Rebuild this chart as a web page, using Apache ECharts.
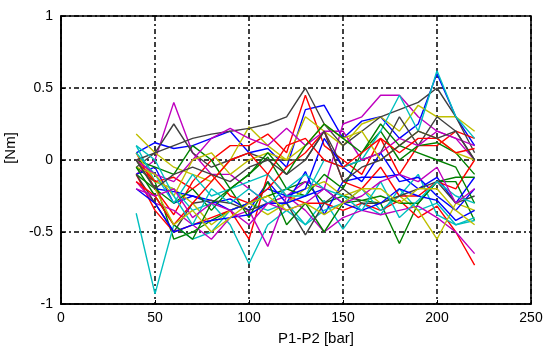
<!DOCTYPE html>
<html>
<head>
<meta charset="utf-8">
<script src="https://cdn.jsdelivr.net/npm/echarts@6/dist/echarts.min.js"></script>
<style>
  html, body { margin: 0; padding: 0; background: #fff; }
  #chart { width: 544px; height: 353px; }
</style>
</head>
<body>
<div id="chart"></div>
<script>
// Pressure difference samples [bar]
const pressure = [40, 50, 60, 70, 80, 90, 100, 110, 120, 130, 140, 150, 160, 170, 180, 190, 200, 210, 220];

// Torque deviation per run [Nm], grouped by plot colour
const blue1 = [0.05, 0.12, 0.08, 0.10, 0.15, 0.20, 0.05, 0.08, -0.05, 0.35, 0.38, 0.15, 0.27, 0.30, 0.15, 0.25, 0.60, 0.30, 0.10];
const blue2 = [-0.10, -0.05, -0.30, -0.25, -0.30, -0.27, -0.35, -0.15, -0.30, -0.08, -0.38, -0.15, -0.12, -0.12, -0.10, -0.20, -0.12, -0.30, -0.12];
const blue3 = [0.00, -0.20, -0.22, -0.25, -0.28, -0.35, -0.30, -0.20, -0.25, -0.20, 0.15, -0.05, -0.15, 0.05, -0.15, -0.12, -0.25, -0.35, -0.20];
const blue4 = [-0.20, -0.30, -0.50, -0.45, -0.42, -0.40, -0.38, -0.30, -0.30, -0.25, -0.20, -0.30, -0.35, -0.30, -0.20, -0.25, -0.28, -0.42, -0.35];

const green1 = [-0.05, -0.15, -0.55, -0.50, -0.42, -0.35, -0.30, -0.25, -0.20, -0.15, -0.30, -0.25, -0.28, -0.30, -0.58, -0.30, -0.15, -0.15, -0.42];
const green2 = [0.00, -0.05, -0.10, 0.10, 0.00, -0.20, -0.10, 0.02, -0.20, -0.25, -0.10, -0.20, 0.05, 0.20, 0.00, 0.10, 0.12, 0.05, -0.10];
const green3 = [-0.10, -0.20, -0.30, -0.20, -0.35, -0.20, -0.40, -0.15, -0.45, -0.30, -0.50, -0.30, -0.28, -0.25, -0.30, -0.30, -0.15, -0.12, -0.12];
const green4 = [-0.05, -0.25, -0.45, -0.55, -0.30, -0.20, -0.10, 0.05, -0.10, 0.10, 0.25, 0.15, 0.05, 0.25, 0.10, 0.05, 0.00, -0.05, -0.30];

const red1 = [0.05, -0.20, -0.38, -0.15, 0.00, 0.10, 0.10, 0.18, 0.05, 0.45, 0.10, 0.00, -0.10, 0.15, -0.10, 0.10, 0.10, 0.20, 0.15];
const red2 = [-0.10, -0.35, -0.50, -0.45, -0.40, -0.35, -0.55, -0.10, -0.25, -0.30, -0.30, -0.35, -0.30, -0.35, -0.28, -0.40, -0.32, -0.50, -0.73];
const red3 = [0.00, -0.15, -0.12, -0.20, -0.10, -0.25, -0.30, -0.20, -0.05, 0.05, 0.20, -0.15, -0.20, -0.05, -0.25, -0.25, -0.15, -0.20, 0.00];
const red4 = [-0.15, -0.25, -0.45, -0.30, -0.15, 0.00, 0.05, -0.10, 0.10, 0.15, 0.00, -0.05, 0.05, 0.15, 0.05, 0.15, 0.15, 0.05, 0.08];

const cyan1 = [-0.37, -0.93, -0.45, -0.55, -0.50, -0.35, -0.30, -0.35, -0.30, -0.45, -0.28, -0.48, -0.30, -0.38, -0.20, -0.35, -0.30, -0.45, -0.40];
const cyan2 = [0.10, -0.15, -0.20, -0.35, -0.30, -0.45, -0.72, -0.45, -0.35, -0.45, -0.35, -0.30, -0.20, -0.35, -0.25, -0.10, -0.38, -0.45, -0.42];
const cyan3 = [0.05, -0.10, -0.30, -0.10, -0.25, -0.20, -0.15, -0.10, -0.25, -0.25, 0.00, -0.05, 0.00, 0.20, 0.45, 0.20, 0.62, 0.30, 0.15];
const cyan4 = [0.10, 0.00, -0.25, -0.45, -0.20, -0.30, -0.20, -0.30, -0.20, -0.10, -0.20, -0.25, -0.35, -0.15, -0.40, -0.28, -0.15, -0.25, -0.30];

const magenta1 = [-0.10, 0.00, 0.40, 0.05, -0.10, -0.10, -0.20, -0.30, -0.25, -0.15, -0.20, 0.25, 0.30, 0.45, 0.45, 0.30, 0.20, 0.15, 0.00];
const magenta2 = [-0.15, -0.30, -0.35, -0.45, -0.55, -0.40, -0.35, -0.60, -0.25, -0.35, -0.50, -0.40, -0.35, -0.38, -0.35, -0.32, -0.40, -0.50, -0.65];
const magenta3 = [0.00, -0.10, -0.15, 0.00, 0.15, 0.22, 0.15, 0.10, 0.22, 0.10, 0.20, 0.20, 0.00, 0.05, 0.15, 0.10, 0.20, 0.15, 0.10];
const magenta4 = [-0.20, -0.25, -0.20, -0.40, -0.30, -0.35, -0.45, -0.30, -0.35, -0.30, -0.20, -0.30, -0.25, -0.15, -0.10, -0.15, -0.05, -0.30, -0.20];

const yellow1 = [0.18, 0.05, -0.05, -0.10, -0.15, 0.00, 0.23, 0.10, 0.00, 0.30, 0.20, 0.10, 0.25, 0.30, 0.20, 0.38, 0.30, 0.30, 0.20];
const yellow2 = [0.05, -0.15, -0.20, -0.30, -0.45, -0.35, -0.30, -0.38, -0.30, -0.20, -0.15, -0.25, -0.20, -0.30, -0.25, -0.35, -0.55, -0.30, -0.35];
const yellow3 = [-0.05, -0.10, -0.25, 0.00, 0.05, -0.10, 0.00, 0.05, 0.00, 0.10, 0.25, 0.15, 0.20, 0.00, 0.10, 0.20, 0.15, 0.05, 0.00];
const yellow4 = [0.00, -0.20, -0.45, -0.35, -0.50, -0.40, -0.30, -0.25, -0.35, -0.30, -0.38, -0.30, -0.20, -0.20, -0.30, -0.20, -0.20, -0.35, -0.45];

const black1 = [-0.05, 0.05, 0.10, 0.15, 0.18, 0.20, 0.22, 0.25, 0.30, 0.50, 0.25, 0.10, 0.20, 0.30, 0.35, 0.40, 0.50, 0.30, 0.05];
const black2 = [0.00, 0.05, 0.25, 0.05, -0.05, 0.00, 0.05, 0.00, 0.00, 0.00, 0.20, -0.05, 0.00, 0.05, 0.30, 0.10, 0.30, 0.20, 0.00];
const black3 = [-0.10, -0.30, -0.50, -0.30, -0.28, -0.30, -0.35, -0.30, -0.30, -0.52, -0.30, -0.20, -0.30, -0.30, -0.25, -0.20, -0.15, -0.30, -0.25];
const black4 = [0.00, -0.20, -0.10, -0.05, -0.10, -0.15, -0.05, 0.00, -0.10, 0.00, 0.20, -0.15, -0.05, 0.00, 0.10, 0.20, 0.15, 0.20, 0.00];

// Axis ticks
const xTicks = [0, 50, 100, 150, 200, 250];
const yTicks = [-1, -0.5, 0, 0.5, 1];

// Runs in plotting order, cycling through the colour order b g r c m y k
const runs = [
  blue1, green1, red1, cyan1, magenta1, yellow1, black1,
  blue2, green2, red2, cyan2, magenta2, yellow2, black2,
  blue3, green3, red3, cyan3, magenta3, yellow3, black3,
  blue4, green4, red4, cyan4, magenta4, yellow4, black4
];
const colorOrder = ['#0000ff', '#008000', '#ff0000', '#00bfbf', '#bf00bf', '#bfbf00', '#404040'];

const chart = echarts.init(document.getElementById('chart'), null, { renderer: 'canvas' });

const gridDash = { color: '#000', width: 1.5, type: [5, 3, 2, 3] };
const labelFont = { fontFamily: 'Liberation Sans, Arial, sans-serif', fontSize: 14, color: '#000' };

const series = runs.map((vals, i) => ({
  type: 'line',
  data: pressure.map((p, j) => [p, vals[j]]),
  showSymbol: false,
  symbol: 'none',
  animation: false,
  lineStyle: { color: colorOrder[i % colorOrder.length], width: 1.4 },
  z: 3
}));

chart.setOption({
  animation: false,
  backgroundColor: '#fff',
  grid: {
    left: 61, right: 13, top: 16, bottom: 49,
    containLabel: false, outerBoundsMode: 'none',
    show: true, borderColor: '#000', borderWidth: 1.6, backgroundColor: 'transparent'
  },
  xAxis: {
    type: 'value', min: xTicks[0], max: xTicks[xTicks.length - 1], interval: 50,
    name: 'P1-P2 [bar]', nameLocation: 'middle', nameGap: 27,
    nameTextStyle: Object.assign({}, labelFont, { fontSize: 15, padding: [0, 0, 0, 40] }),
    axisLine: { show: true, onZero: false, lineStyle: { color: '#000', width: 1.6 } },
    axisTick: { show: true, inside: true, length: 4, lineStyle: { color: '#000' } },
    axisLabel: Object.assign({}, labelFont, { margin: 7 }),
    splitLine: { show: true, lineStyle: gridDash }
  },
  yAxis: {
    type: 'value', min: yTicks[0], max: yTicks[yTicks.length - 1], interval: 0.5,
    name: '[Nm]', nameLocation: 'middle', nameGap: 40,
    nameTextStyle: Object.assign({}, labelFont, { fontSize: 15, padding: [0, 0, 0, 24] }),
    axisLine: { show: true, onZero: false, lineStyle: { color: '#000', width: 1.6 } },
    axisTick: { show: true, inside: true, length: 4, lineStyle: { color: '#000' } },
    axisLabel: Object.assign({}, labelFont, { margin: 8 }),
    splitLine: { show: true, lineStyle: gridDash }
  },
  series: series
});
</script>
</body>
</html>
